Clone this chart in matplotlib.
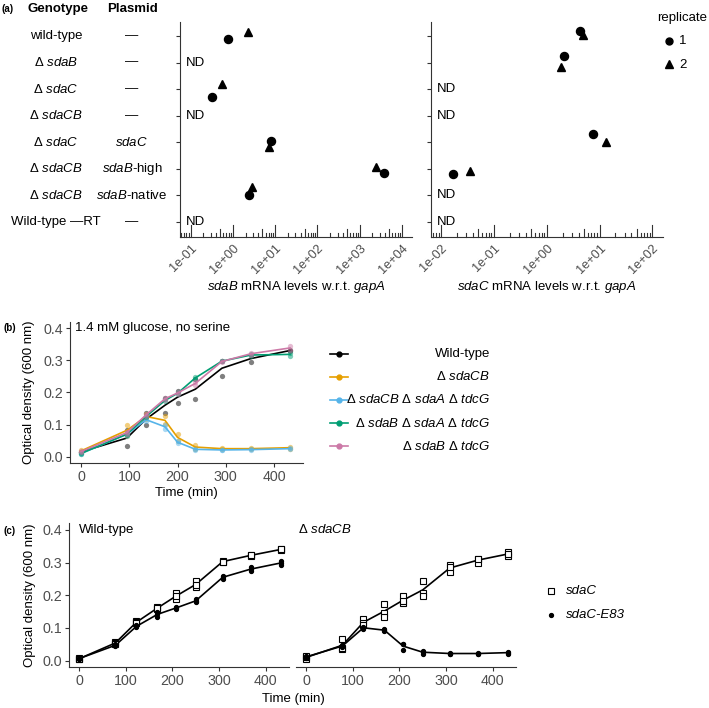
import numpy as np
import matplotlib
matplotlib.use("Agg")
import matplotlib.pyplot as plt
from matplotlib.lines import Line2D
from matplotlib.transforms import blended_transform_factory

plt.rcParams['font.family'] = ['Liberation Sans', 'DejaVu Sans']
plt.rcParams['mathtext.fontset'] = 'custom'
plt.rcParams['mathtext.rm'] = 'Liberation Sans'
plt.rcParams['mathtext.it'] = 'Liberation Sans:italic'

# ---------------- data ----------------
# (a) mRNA levels, one value per row (nan = not detected)
genotypes = ['wild-type', r'Δ $\it{sdaB}$', r'Δ $\it{sdaC}$', r'Δ $\it{sdaCB}$',
             r'Δ $\it{sdaC}$', r'Δ $\it{sdaCB}$', r'Δ $\it{sdaCB}$', 'Wild-type —RT']
plasmids = ['—', '—', '—', '—', r'$\it{sdaC}$', r'$\it{sdaB}$-high',
            r'$\it{sdaB}$-native', '—']
nan = np.nan
sdab_rep1 = [0.75, nan, 0.33, nan, 7.9, 3870, 2.45, nan]
sdab_rep2 = [2.3, nan, 0.54, nan, 7.0, 2420, 2.8, nan]
sdac_rep1 = [4.26, 2.15, nan, nan, 7.4, 0.0171, nan, nan]
sdac_rep2 = [4.78, 1.88, nan, nan, 13.0, 0.0359, nan, nan]
# vertical jitter of the points (row units)
sdab_jit1 = [0.12, 0, 0.29, 0, -0.05, 0.17, 0.0, 0]
sdab_jit2 = [-0.15, 0, -0.2, 0, 0.19, -0.06, -0.31, 0]
sdac_jit1 = [-0.2, -0.25, 0, 0, -0.32, 0.19, 0, 0]
sdac_jit2 = [-0.05, 0.16, 0, 0, 0.0, 0.09, 0, 0]
sdab_ticks = ['1e-01', '1e+00', '1e+01', '1e+02', '1e+03', '1e+04']
sdac_ticks = ['1e-02', '1e-01', '1e+00', '1e+01', '1e+02']

# (b) growth, 1.4 mM glucose, no serine
b_time = [0, 95, 135, 174, 200, 237, 292, 352, 433]
b_strains = ['Wild-type', r'Δ $\it{sdaCB}$',
             r'Δ $\it{sdaCB}$ Δ $\it{sdaA}$ Δ $\it{tdcG}$',
             r'Δ $\it{sdaB}$ Δ $\it{sdaA}$ Δ $\it{tdcG}$',
             r'Δ $\it{sdaB}$ Δ $\it{tdcG}$']
b_colors = ['#000000', '#E69F00', '#56B4E9', '#009E73', '#CC79A7']
wt_r1 = [0.015, 0.033, 0.098, 0.137, 0.166, 0.179, 0.252, 0.295, 0.333]
wt_r2 = [0.015, 0.083, 0.136, 0.183, 0.204, 0.241, 0.298, 0.315, 0.327]
cb_r1 = [0.020, 0.100, 0.132, 0.125, 0.072, 0.035, 0.027, 0.027, 0.031]
cb_r2 = [0.016, 0.064, 0.118, 0.101, 0.048, 0.025, 0.023, 0.023, 0.025]
cbat_r1 = [0.008, 0.075, 0.120, 0.100, 0.048, 0.024, 0.022, 0.023, 0.026]
cbat_r2 = [0.012, 0.065, 0.110, 0.086, 0.042, 0.022, 0.020, 0.021, 0.024]
bat_r1 = [0.008, 0.072, 0.128, 0.178, 0.200, 0.248, 0.298, 0.318, 0.322]
bat_r2 = [0.012, 0.068, 0.122, 0.172, 0.194, 0.242, 0.296, 0.314, 0.314]
bt_r1 = [0.018, 0.078, 0.134, 0.184, 0.200, 0.232, 0.298, 0.323, 0.343]
bt_r2 = [0.014, 0.072, 0.126, 0.176, 0.196, 0.224, 0.294, 0.317, 0.333]
b_reps = [[wt_r1, wt_r2], [cb_r1, cb_r2], [cbat_r1, cbat_r2],
          [bat_r1, bat_r2], [bt_r1, bt_r2]]

# (c) complementation with sdaC / sdaC-E83
c_time = [0, 78, 123, 168, 208, 250, 308, 368, 432]
c_facets = ['Wild-type', r'Δ $\it{sdaCB}$']
wt_sdac = [[0.004, 0.058, 0.120, 0.165, 0.206, 0.243, 0.304, 0.323, 0.341],
           [0.008, 0.055, 0.118, 0.158, 0.189, 0.224, 0.302, 0.321, 0.339],
           [0.006, 0.050, 0.115, 0.160, 0.198, 0.232, 0.303, 0.322, 0.340]]
wt_e83 = [[0.005, 0.045, 0.102, 0.135, 0.158, 0.178, 0.250, 0.275, 0.293],
          [0.008, 0.050, 0.108, 0.148, 0.165, 0.188, 0.260, 0.285, 0.305],
          [0.006, 0.047, 0.105, 0.142, 0.161, 0.183, 0.255, 0.280, 0.298]]
cb_sdac = [[0.005, 0.066, 0.127, 0.173, 0.198, 0.243, 0.293, 0.312, 0.333],
           [0.010, 0.036, 0.115, 0.147, 0.175, 0.208, 0.272, 0.300, 0.319],
           [0.015, 0.040, 0.110, 0.135, 0.182, 0.198, 0.285, 0.310, 0.326]]
cb_e83 = [[0.008, 0.045, 0.104, 0.096, 0.051, 0.030, 0.023, 0.023, 0.027],
          [0.012, 0.042, 0.100, 0.090, 0.033, 0.022, 0.021, 0.021, 0.022],
          [0.015, 0.048, 0.098, 0.094, 0.050, 0.026, 0.022, 0.022, 0.025]]
c_legend = ['sdaC', 'sdaC-E83']

# ---------------- figure ----------------
W, H = 709, 708
fig = plt.figure(figsize=(W / 100, H / 100), dpi=100)


def fbox(x0, y0, x1, y1):
    return [x0 / W, 1 - y1 / H, (x1 - x0) / W, (y1 - y0) / H]


def px(x, y):
    return x / W, 1 - y / H


AX_COL = '#333333'
TICK_COL = '#4D4D4D'
FS = 9.5


def classic(ax, left=True):
    ax.spines['top'].set_visible(False)
    ax.spines['right'].set_visible(False)
    for s in ['left', 'bottom']:
        ax.spines[s].set_color(AX_COL)
        ax.spines[s].set_linewidth(0.8)
    ax.tick_params(colors=AX_COL, labelcolor=TICK_COL, labelsize=10.3,
                   length=3, width=0.8, pad=2)
    if not left:
        ax.spines['left'].set_visible(False)
        ax.tick_params(axis='y', left=False, labelleft=False)
    ax.patch.set_alpha(0)


# ---------- panel (a) ----------
rows = np.arange(1, len(genotypes) + 1)
axA1 = fig.add_axes(fbox(180, 22, 412, 237))
axA2 = fig.add_axes(fbox(431, 22, 663, 237))

panels_a = [
    (axA1, sdab_rep1, sdab_rep2, sdab_jit1, sdab_jit2, (-1.25, 4.24), sdab_ticks,
     r'$\it{sdaB}$ mRNA levels w.r.t. $\it{gapA}$'),
    (axA2, sdac_rep1, sdac_rep2, sdac_jit1, sdac_jit2, (-2.19, 2.2), sdac_ticks,
     r'$\it{sdaC}$ mRNA levels w.r.t. $\it{gapA}$'),
]
for ax, r1, r2, j1, j2, lims, ticks, xl in panels_a:
    classic(ax)
    ax.set_xscale('log')
    ax.set_xlim(10 ** lims[0], 10 ** lims[1])
    ax.set_ylim(8.58, 0.47)
    ax.set_yticks(rows)
    ax.set_yticklabels([])
    ax.minorticks_off()
    r1 = np.array(r1, float)
    r2 = np.array(r2, float)
    ax.plot(r1, rows + np.array(j1), 'o', color='black', ms=5.8, ls='none')
    ax.plot(r2, rows + np.array(j2), '^', color='black', ms=6.3, ls='none')
    for row, a, b in zip(rows, r1, r2):
        if np.isnan(a) and np.isnan(b):
            ax.text(0.026, row, 'ND', transform=ax.get_yaxis_transform(),
                    fontsize=FS, ha='left', va='center')
    # log ticks drawn inside the plot (annotation_logticks style)
    major = [float(t) for t in ticks]
    ax.set_xticks(major)
    ax.set_xticklabels(ticks)
    ax.tick_params(axis='x', length=0, pad=4, labelsize=9.2)
    for lab in ax.get_xticklabels():
        lab.set_rotation(45)
        lab.set_ha('right')
        lab.set_va('top')
        lab.set_rotation_mode('anchor')
    tr = ax.get_xaxis_transform()
    for k in range(int(np.floor(lims[0])), int(np.ceil(lims[1]))):
        for m in range(1, 10):
            v = m * 10.0 ** k
            if 10 ** lims[0] <= v <= 10 ** lims[1]:
                L = 0.056 if m == 1 else (0.037 if m == 5 else 0.02)
                ax.plot([v, v], [0, L], color=AX_COL, lw=0.8, transform=tr,
                        clip_on=False)
    ax.set_xlabel(xl, fontsize=FS)
    ax.xaxis.set_label_coords(0.5, -0.195)

tA = blended_transform_factory(fig.transFigure, axA1.transData)
for row, g, p in zip(rows, genotypes, plasmids):
    fig.text(56 / W, row, g, transform=tA, ha='center', va='center', fontsize=FS)
    fig.text(132 / W, row, p, transform=tA, ha='center', va='center', fontsize=FS)
fig.text(*px(58, 9), 'Genotype', ha='center', va='center', fontsize=FS,
         fontweight='bold')
fig.text(*px(132, 9), 'Plasmid', ha='center', va='center', fontsize=FS,
         fontweight='bold')
fig.text(*px(2, 9), '(a)', ha='left', va='center', fontsize=7, fontweight='bold')

# replicate legend
fig.text(*px(657, 18), 'replicate', ha='left', va='center', fontsize=FS)
fig.add_artist(Line2D([669 / W], [1 - 41 / H], marker='o', color='black', ms=5,
                      transform=fig.transFigure))
fig.add_artist(Line2D([669 / W], [1 - 64 / H], marker='^', color='black', ms=5.5,
                      transform=fig.transFigure))
fig.text(*px(679, 41), '1', ha='left', va='center', fontsize=FS)
fig.text(*px(679, 65), '2', ha='left', va='center', fontsize=FS)

# ---------- panel (b) ----------
axB = fig.add_axes(fbox(70.3, 321.7, 303, 463.3))
classic(axB)
for reps, col in zip(b_reps, b_colors):
    for r in reps:
        axB.plot(b_time, r, 'o', color=col, ms=3.8, alpha=0.5, mec='none')
    axB.plot(b_time, np.mean(reps, axis=0), '-', color=col, lw=1.2)
axB.set_xlim(-22.2, 460)
axB.set_ylim(-0.0205, 0.4196)
axB.set_xticks([0, 100, 200, 300, 400])
axB.set_yticks([0.0, 0.1, 0.2, 0.3, 0.4])
axB.set_yticklabels(['0.0', '0.1', '0.2', '0.3', '0.4'])
axB.set_xlabel('Time (min)', fontsize=FS)
axB.xaxis.set_label_coords(0.5, -0.17)
axB.set_ylabel('Optical density (600 nm)', fontsize=FS)
axB.yaxis.set_label_coords(-0.15, 0.5)
axB.text(0.02, 0.4, '1.4 mM glucose, no serine', transform=axB.get_yaxis_transform(),
         ha='left', va='center', fontsize=FS)
fig.text(*px(4, 328), '(b)', ha='left', va='center', fontsize=7, fontweight='bold')

# legend (b): keys on the left, labels right-justified
for i, (lab, col) in enumerate(zip(b_strains, b_colors)):
    y = 353.5 + i * 23.2
    fig.add_artist(Line2D([330 / W, 348 / W], [1 - y / H] * 2, color=col, lw=1.2,
                          transform=fig.transFigure))
    fig.add_artist(Line2D([339 / W], [1 - y / H], marker='o', color=col, ms=3.5,
                          transform=fig.transFigure))
    fig.text(*px(490, y), lab, ha='right', va='center', fontsize=FS)

# ---------- panel (c) ----------
axC1 = fig.add_axes(fbox(69, 523.3, 289, 666.7))
axC2 = fig.add_axes(fbox(296, 523.3, 516, 666.7))
for ax, sq, dots, first in [(axC1, wt_sdac, wt_e83, True),
                            (axC2, cb_sdac, cb_e83, False)]:
    classic(ax, left=first)
    for r in sq:
        ax.plot(c_time, r, 's', mfc='white', mec='black', mew=0.8, ms=4, zorder=3)
    for r in dots:
        ax.plot(c_time, r, 'o', color='black', ms=2.8, zorder=3)
    ax.plot(c_time, np.mean(sq, axis=0), '-', color='black', lw=1.2, zorder=2)
    ax.plot(c_time, np.mean(dots, axis=0), '-', color='black', lw=1.2, zorder=2)
    ax.set_xlim(-21.5, 450)
    ax.set_ylim(-0.0183, 0.42)
    ax.set_xticks([0, 100, 200, 300, 400])
    ax.set_yticks([0.0, 0.1, 0.2, 0.3, 0.4])
    ax.set_yticklabels(['0.0', '0.1', '0.2', '0.3', '0.4'])
axC1.text(0.045, 0.4, c_facets[0], transform=axC1.get_yaxis_transform(),
          ha='left', va='center', fontsize=FS)
axC2.text(0.008, 0.4, c_facets[1], transform=axC2.get_yaxis_transform(),
          ha='left', va='center', fontsize=FS)
axC1.set_ylabel('Optical density (600 nm)', fontsize=FS)
axC1.yaxis.set_label_coords(-0.15, 0.5)
fig.text(*px(293, 699), 'Time (min)', ha='center', va='center', fontsize=FS)
fig.text(*px(4, 531), '(c)', ha='left', va='center', fontsize=7, fontweight='bold')

# legend (c)
fig.add_artist(Line2D([551 / W], [1 - 591 / H], marker='s', mfc='white', mec='black',
                      mew=0.8, ms=4, transform=fig.transFigure))
fig.add_artist(Line2D([551 / W], [1 - 615 / H], marker='o', color='black', ms=2.8,
                      transform=fig.transFigure))
fig.text(*px(566, 591), c_legend[0], ha='left', va='center', fontsize=FS,
         style='italic')
fig.text(*px(566, 615), c_legend[1], ha='left', va='center', fontsize=FS,
         style='italic')

fig.savefig('out.png', dpi=100)
